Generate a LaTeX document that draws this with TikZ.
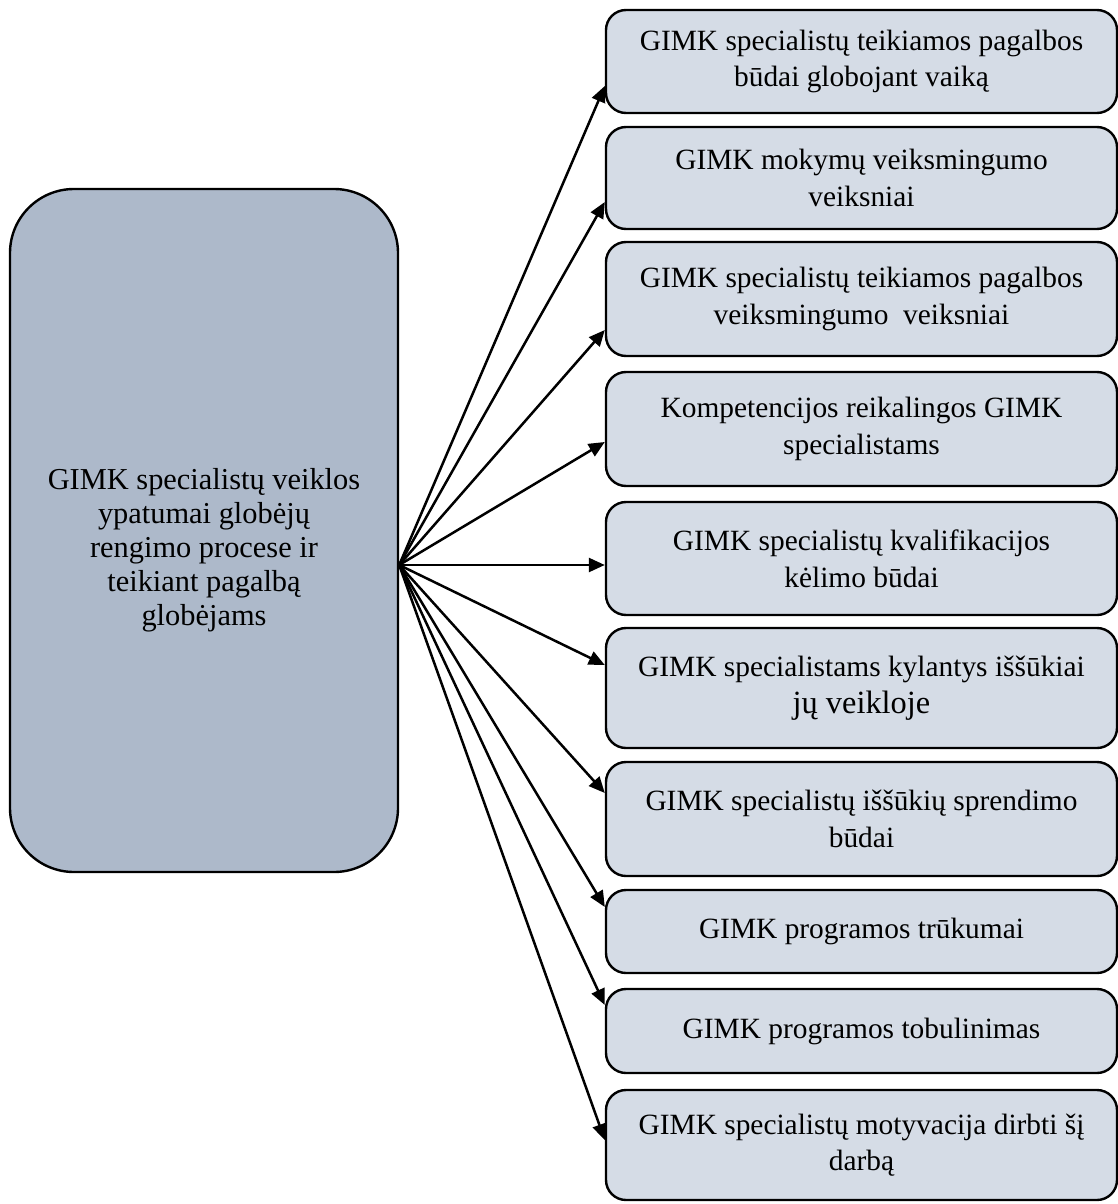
\documentclass[tikz,border=0pt]{standalone}
\usepackage{fontspec}
\setmainfont{Liberation Serif}
\usepackage{xcolor}
\definecolor{rootfill}{HTML}{ADB9CA}
\definecolor{itemfill}{HTML}{D5DCE6}
\usepackage{tikz}
\usetikzlibrary{arrows.meta, positioning}

\begin{document}
\begin{tikzpicture}[
  x=0.5pt, y=-0.5pt,
  rootbox/.style={draw=black, line width=1.2pt, rounded corners=32pt, fill=rootfill, minimum width=194pt, minimum height=341.5pt, inner sep=0pt},
  item/.style={draw=black, line width=1.2pt, rounded corners=10pt, fill=itemfill, minimum width=255.5pt, align=center, font=\fontsize{14.7}{18.3}\selectfont, inner sep=0pt},
  link/.style={-{Triangle[length=8pt, width=7pt]}, black, line width=1.25pt}
]
\useasboundingbox (0,0) rectangle (1118,1204);
\node[rootbox, label={[align=center, font=\fontsize{15.2}{17}\selectfont, yshift=-10pt]center:GIMK specialistų veiklos\\ypatumai globėjų\\rengimo procese ir\\teikiant pagalbą\\globėjams}] (root) at (204,530.5) {};
\coordinate (hub) at ([yshift=-17.25pt]root.east);
\node[item, minimum height=51.5pt] (b1) at (861.5,61.5) {GIMK specialistų teikiamos pagalbos\\būdai globojant vaiką};
\node[item, minimum height=51pt] (b2) at (861.5,178) {GIMK mokymų veiksmingumo\\veiksniai};
\node[item, minimum height=57pt] (b3) at (861.5,299) {GIMK specialistų teikiamos pagalbos\\veiksmingumo\ \ veiksniai};
\node[item, minimum height=57pt] (b4) at (861.5,429) {Kompetencijos reikalingos GIMK\\specialistams};
\node[item, minimum height=56.5pt] (b5) at (861.5,558.5) {GIMK specialistų kvalifikacijos\\kėlimo būdai};
\node[item, minimum height=60pt] (b6) at (861.5,688) {GIMK specialistams kylantys iššūkiai\\{\fontsize{16.2}{20}\selectfont jų veikloje}};
\node[item, minimum height=57pt] (b7) at (861.5,819) {GIMK specialistų iššūkių sprendimo\\būdai};
\node[item, minimum height=41.5pt] (b8) at (861.5,931.5) {GIMK programos trūkumai};
\node[item, minimum height=42pt] (b9) at (861.5,1031) {GIMK programos tobulinimas};
\node[item, minimum height=55pt] (b10) at (861.5,1145) {GIMK specialistų motyvacija dirbti šį\\darbą};
\draw[link] (hub) -- ([yshift=-12.25pt]b1.west);
\draw[link] (hub) -- ([yshift=-12pt]b2.west);
\draw[link] (hub) -- ([yshift=-15.5pt]b3.west);
\draw[link] (hub) -- ([yshift=-6.5pt]b4.west);
\draw[link] (hub) -- ([yshift=-3.25pt]b5.west);
\draw[link] (hub) -- ([yshift=11.5pt]b6.west);
\draw[link] (hub) -- ([yshift=13pt]b7.west);
\draw[link] (hub) -- ([yshift=12.25pt]b8.west);
\draw[link] (hub) -- ([yshift=13pt]b9.west);
\draw[link] (hub) -- ([yshift=2.5pt]b10.west);
\end{tikzpicture}
\end{document}
